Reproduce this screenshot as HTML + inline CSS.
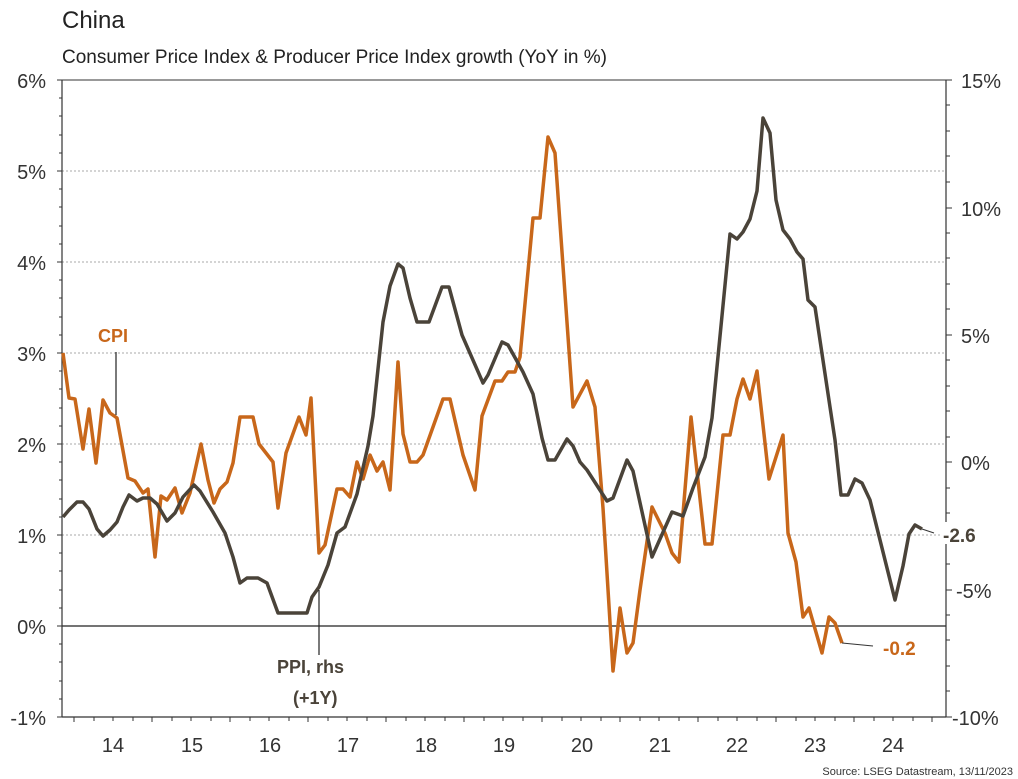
<!DOCTYPE html>
<html><head><meta charset="utf-8"><style>
body{margin:0;background:#fff;}
svg{display:block;font-family:"Liberation Sans",Arial,sans-serif;}
</style></head><body>
<svg width="1018" height="779" viewBox="0 0 1018 779" xmlns="http://www.w3.org/2000/svg">
<text x="62" y="28" font-size="24" fill="#222">China</text>
<text x="62" y="63" font-size="19" fill="#222">Consumer Price Index &amp; Producer Price Index growth (YoY in %)</text>
<g stroke="#aaa" stroke-width="1" stroke-dasharray="2,2">
<line x1="62" y1="171" x2="946" y2="171"/><line x1="62" y1="262" x2="946" y2="262"/>
<line x1="62" y1="353" x2="946" y2="353"/><line x1="62" y1="444" x2="946" y2="444"/>
<line x1="62" y1="535" x2="946" y2="535"/>
</g>
<line x1="62" y1="80" x2="946" y2="80" stroke="#333" stroke-width="1"/>
<line x1="62" y1="626" x2="946" y2="626" stroke="#222" stroke-width="1.2"/>
<line x1="62" y1="80" x2="62" y2="717" stroke="#333" stroke-width="1.2"/>
<line x1="946" y1="80" x2="946" y2="717" stroke="#333" stroke-width="1.2"/>
<line x1="62" y1="717" x2="946" y2="717" stroke="#333" stroke-width="1.2"/>
<g font-size="20" fill="#333" text-anchor="end">
<text x="46" y="88">6%</text><text x="46" y="179">5%</text><text x="46" y="270">4%</text>
<text x="46" y="361">3%</text><text x="46" y="452">2%</text><text x="46" y="543">1%</text>
<text x="46" y="634">0%</text><text x="46" y="725">-1%</text>
</g>
<g font-size="20" fill="#333">
<text x="961" y="88">15%</text><text x="961" y="216">10%</text><text x="961" y="343">5%</text>
<text x="961" y="470">0%</text><text x="956" y="598">-5%</text><text x="952" y="725">-10%</text>
</g>
<g font-size="20" fill="#333" text-anchor="middle">
<text x="113" y="752">14</text><text x="192" y="752">15</text><text x="270" y="752">16</text>
<text x="348" y="752">17</text><text x="426" y="752">18</text><text x="504" y="752">19</text>
<text x="582" y="752">20</text><text x="660" y="752">21</text><text x="737" y="752">22</text>
<text x="815" y="752">23</text><text x="893" y="752">24</text>
</g>
<text x="1013" y="775" font-size="11" fill="#333" text-anchor="end">Source: LSEG Datastream, 13/11/2023</text>
<g stroke="#333" stroke-width="1">
<path d="M62 80h-5M62 717h-5M946 80h6M946 208h6M946 335h6M946 462h6M946 590h6M946 717h6
M62 98h-3M62 116h-3M62 135h-3M62 153h-3M62 171h-5M62 189h-3M62 207h-3M62 226h-3M62 244h-3M62 262h-5M62 280h-3M62 298h-3M62 317h-3M62 335h-3M62 353h-5M62 371h-3M62 389h-3M62 408h-3M62 426h-3M62 444h-5M62 462h-3M62 480h-3M62 499h-3M62 517h-3M62 535h-5M62 553h-3M62 571h-3M62 590h-3M62 608h-3M62 626h-5M62 644h-3M62 662h-3M62 681h-3M62 699h-3
M946 105h4M946 131h4M946 156h4M946 182h4M946 233h4M946 258h4M946 284h4M946 309h4M946 360h4M946 386h4M946 411h4M946 437h4M946 488h4M946 513h4M946 539h4M946 564h4M946 615h4M946 640h4M946 666h4M946 691h4
M74 717v5M94 717v4M113 717v4M133 717v4M152 717v5M172 717v4M191 717v4M211 717v4M230 717v5M250 717v4M269 717v4M289 717v4M308 717v5M328 717v4M347 717v4M367 717v4M386 717v5M406 717v4M425 717v4M445 717v4M464 717v5M484 717v4M503 717v4M523 717v4M542 717v5M562 717v4M581 717v4M601 717v4M620 717v5M640 717v4M659 717v4M679 717v4M698 717v5M718 717v4M737 717v4M757 717v4M776 717v5M796 717v4M815 717v4M835 717v4M854 717v5M874 717v4M893 717v4M913 717v4M932 717v5"/>
</g>
<polyline fill="none" stroke="#c8671a" stroke-width="3.5" stroke-linejoin="round" points="63,353 69,398 75,399 83,449 89,409 96,463 103,400 110,413 117,418 128,478 135,481 143,493 148,489 155,557 161,496 167,500 175,488 182,513 190,493 201,444 208,480 214,503 220,489 227,482 233,463 240,417 253,417 259,444 273,462 278,508 286,453 299,417 306,435 311,398 319,553 325,545 337,489 343,489 350,497 357,462 363,479 370,455 377,471 383,462 390,490 398,362 403,434 410,462 417,462 423,455 443,399 450,399 463,455 475,490 482,416 495,381 502,381 508,372 515,372 520,357 533,218 540,218 548,137 555,153 573,407 587,381 595,407 603,508 613,671 620,608 627,653 633,643 640,590 652,507 665,533 672,553 679,562 691,417 705,544 712,544 723,435 730,435 737,399 743,379 750,399 757,371 769,479 783,435 788,533 796,562 803,617 809,608 822,653 829,617 835,623 842,643"/>
<polyline fill="none" stroke="#4a4339" stroke-width="3.5" stroke-linejoin="round" points="63,517 69,510 77,502 83,502 89,509 97,529 103,536 110,530 117,522 123,507 129,495 137,501 143,498 150,498 157,504 167,521 175,513 183,497 194,485 200,491 213,512 225,533 233,557 240,583 247,578 258,578 267,583 278,613 307,613 312,597 319,587 328,565 337,533 345,527 357,494 368,446 373,416 383,322 390,286 398,264 403,268 410,298 417,322 429,322 442,287 449,287 462,335 483,383 488,375 502,342 508,345 523,372 533,394 542,438 548,460 555,460 567,439 573,446 580,462 587,470 607,501 613,498 627,460 633,471 652,557 672,512 683,516 693,488 705,457 712,418 730,234 737,239 743,232 750,219 757,191 763,118 770,133 776,200 783,230 790,239 797,252 803,259 808,300 815,307 830,407 835,440 841,495 848,495 855,479 862,483 870,500 895,600 903,566 909,534 915,525 922,529"/>
<line x1="842" y1="643" x2="873" y2="646" stroke="#333" stroke-width="1"/>
<line x1="922" y1="529" x2="934" y2="533" stroke="#333" stroke-width="1"/>
<rect x="941" y="522" width="40" height="22" fill="#fff"/>
<text x="943" y="542" font-size="19" font-weight="bold" fill="#4a4339">-2.6</text>
<text x="883" y="655" font-size="19" font-weight="bold" fill="#c8671a">-0.2</text>
<line x1="116" y1="352" x2="116" y2="415" stroke="#222" stroke-width="1.2"/>
<text x="98" y="342" font-size="18" font-weight="bold" fill="#c8671a">CPI</text>
<line x1="319" y1="590" x2="319" y2="655" stroke="#222" stroke-width="1.2"/>
<text x="277" y="673" font-size="18" font-weight="bold" fill="#4a4339">PPI, rhs</text>
<text x="293" y="704" font-size="18" font-weight="bold" fill="#4a4339">(+1Y)</text>
</svg>
</body></html>
